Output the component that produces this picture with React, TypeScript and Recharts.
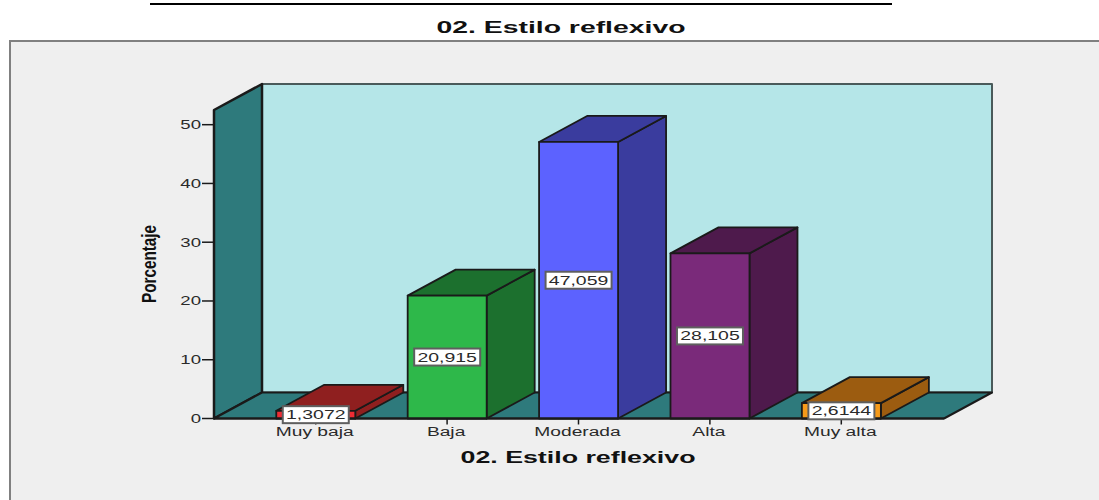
import React from "react";
import { ComposedChart, Bar, XAxis, YAxis, ReferenceArea, LabelList } from "recharts";

const categories = ["Muy baja", "Baja", "Moderada", "Alta", "Muy alta"];
const percentages = [1.3072, 20.915, 47.059, 28.105, 2.6144];
const valueLabels = ["1,3072", "20,915", "47,059", "28,105", "2,6144"];
const frontColors = ["#ee2c34", "#2eb84a", "#5c62ff", "#7a2a7a", "#f59a1a"];
const shadeColors = ["#8f1f1f", "#1c702e", "#3a3c9e", "#4e1a4c", "#9c5c10"];
const yTicks = [0, 10, 20, 30, 40, 50];
const chartTitle = "02. Estilo reflexivo";
const yTitle = "Porcentaje";

const rows = categories.map((name, i) => ({ name, value: percentages[i], label: valueLabels[i] }));

const DX = 48;
const DY = -26;
const PAD_L = 36;
const PAD_R = 37;
const FONT = "'Liberation Sans', Arial, sans-serif";
const INK = "#1a1a1a";
const TEXT = "#2a2a2a";

const pts = (a: number[][]) => a.map((p) => p.join(",")).join(" ");

const Room = ({ x: bandX, y, width, height }: any) => {
  const x = bandX - PAD_L;
  const r = bandX + width + PAD_R;
  const b = y + height;
  return (
    <g stroke={INK} strokeLinejoin="round">
      <polygon points={pts([[x + DX, y + DY], [r + DX, y + DY], [r + DX, b + DY], [x + DX, b + DY]])} fill="#b5e6e8" stroke="#4a5a5a" strokeWidth={2} />
      <polygon points={pts([[x, y], [x + DX, y + DY], [x + DX, b + DY], [x, b]])} fill="#2e7a7c" strokeWidth={2.5} />
      <polygon points={pts([[x, b], [x + DX, b + DY], [r + DX, b + DY], [r, b]])} fill="#2e7a7c" strokeWidth={2} />
    </g>
  );
};

const Bar3D = ({ x, y, width, height, index }: any) => {
  const r = x + width;
  const b = y + height;
  const shade = shadeColors[index];
  return (
    <g stroke={INK} strokeWidth={1.8} strokeLinejoin="round">
      <polygon points={pts([[r, y], [r + DX, y + DY], [r + DX, b + DY], [r, b]])} fill={shade} />
      <polygon points={pts([[x, y], [x + DX, y + DY], [r + DX, y + DY], [r, y]])} fill={shade} />
      <rect x={x} y={y} width={width} height={height} fill={frontColors[index]} />
    </g>
  );
};

const ValueBox = ({ x, y, width, height, index }: any) => {
  const cx = x + width / 2;
  const cy = y + height / 2;
  return (
    <g>
      <rect x={cx - 33} y={cy - 8.5} width={66} height={17} fill="#fff" stroke="#5f5f5f" strokeWidth={2} />
      <text transform={`translate(${cx},${cy + 4.5}) scale(1.62,1)`} textAnchor="middle" fontFamily={FONT} fontSize={12} fill={TEXT}>
        {valueLabels[index]}
      </text>
    </g>
  );
};

const XTick = ({ x, y, payload }: any) => (
  <text transform={`translate(${x - 1},${y + 9}) scale(1.6,1)`} textAnchor="middle" fontFamily={FONT} fontSize={12} fill={TEXT}>
    {payload.value}
  </text>
);

const YTick = ({ x, y, payload }: any) => (
  <text transform={`translate(${x + 1},${y + 4.5}) scale(1.55,1)`} textAnchor="end" fontFamily={FONT} fontSize={12} fill={TEXT}>
    {payload.value}
  </text>
);

const XTitle = () => (
  <text x={578} y={463} textAnchor="middle" fontFamily={FONT} fontWeight="bold" fontSize={16} textLength={235} lengthAdjust="spacingAndGlyphs" fill="#111">
    {chartTitle}
  </text>
);

const YTitle = () => (
  <text transform="translate(156,264) rotate(-90)" textAnchor="middle" fontFamily={FONT} fontWeight="bold" fontSize={20} textLength={78} lengthAdjust="spacingAndGlyphs" fill="#111">
    {yTitle}
  </text>
);

export default function App() {
  return (
    <div style={{ position: "absolute", left: 0, top: 0, width: 1099, height: 500, background: "#fff", overflow: "hidden" }}>
      <svg width={1099} height={500} style={{ position: "absolute", left: 0, top: 0 }}>
        <rect x={10} y={41} width={1200} height={600} fill="#efefef" stroke="#808080" strokeWidth={2} />
        <line x1={150} x2={892} y1={4} y2={4} stroke="#000" strokeWidth={2} />
        <text x={561} y={33} textAnchor="middle" fontFamily={FONT} fontWeight="bold" fontSize={17} textLength={249} lengthAdjust="spacingAndGlyphs" fill="#111">
          {chartTitle}
        </text>
      </svg>
      <div style={{ position: "absolute", left: 0, top: 0 }}>
        <ComposedChart width={1099} height={500} data={rows} margin={{ top: 110, right: 155, bottom: 0, left: 0 }} barCategoryGap="20%">
          <XAxis
            dataKey="name"
            scale="band"
            padding={{ left: PAD_L, right: PAD_R }}
            axisLine={{ stroke: INK, strokeWidth: 2 }}
            tickLine={{ stroke: INK, strokeWidth: 1.5 }}
            tickSize={6}
            height={81.5}
            interval={0}
            tick={<XTick />}
            label={<XTitle />}
          />
          <YAxis
            width={214}
            domain={[0, 52.5]}
            ticks={yTicks}
            axisLine={false}
            tickLine={{ stroke: INK, strokeWidth: 1.5 }}
            tickSize={12}
            tick={<YTick />}
            label={<YTitle />}
          />
          <ReferenceArea y1={0} y2={52.5} shape={<Room />} />
          <Bar dataKey="value" isAnimationActive={false} shape={<Bar3D />}>
            <LabelList dataKey="label" content={<ValueBox />} />
          </Bar>
        </ComposedChart>
      </div>
    </div>
  );
}
